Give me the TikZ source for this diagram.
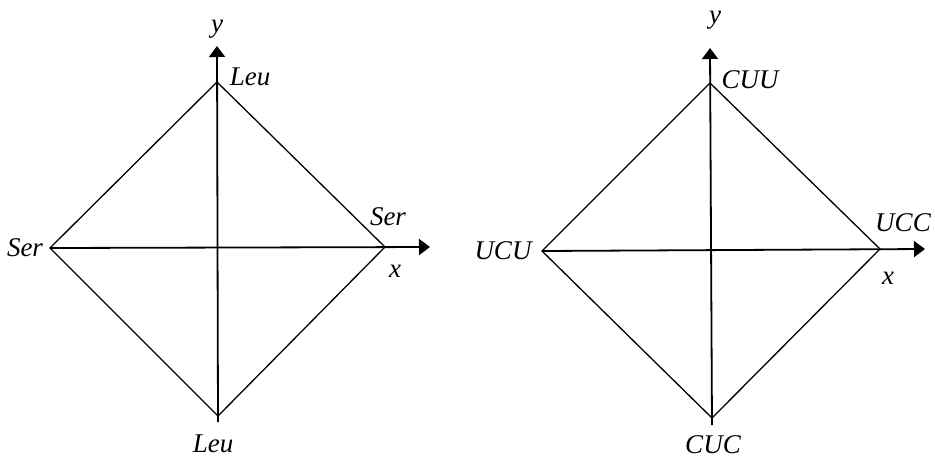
\documentclass[tikz,border=0pt]{standalone}
\usepackage{fontspec}
\setmainfont{Liberation Serif}
\usetikzlibrary{arrows.meta}
\tikzset{
  edge/.style={line width=1.3pt, black},
  axis/.style={line width=1.8pt, black, -{Triangle[length=11pt,width=16pt]}},
  lbl/.style={font=\itshape\fontsize{27}{27}\selectfont, inner sep=0pt}
}
\begin{document}
\begin{tikzpicture}[x=1pt,y=-1pt]
\useasboundingbox (0,0) rectangle (935,459);
% left diagram
\coordinate (LT) at (217,82);
\coordinate (LB) at (218,416);
\coordinate (LL) at (50,248);
\coordinate (LR) at (385,247);
\coordinate (LYb) at (218,422);
\coordinate (LYt) at (217,46);
\coordinate (LXt) at (430,247);
\draw[edge] (LT) -- (LR) -- (LB) -- (LL) -- cycle;
\draw[axis] (LYb) -- (LYt);
\draw[axis] (LL) -- (LXt);
\node[lbl] (ly) at (217,29) {y};
\node[lbl] (lleut) at (250,77) {Leu};
\node[lbl] (lserr) at (388,217) {Ser};
\node[lbl] (lserl) at (25,248) {Ser};
\node[lbl] (lx) at (395,271) {x};
\node[lbl] (lleub) at (213,444) {Leu};
% right diagram
\coordinate (RT) at (710,83);
\coordinate (RB) at (712,418);
\coordinate (RL) at (542,251);
\coordinate (RR) at (880,249);
\coordinate (RYb) at (712,425);
\coordinate (RYt) at (710,48);
\coordinate (RXt) at (925,249);
\draw[edge] (RT) -- (RR) -- (RB) -- (RL) -- cycle;
\draw[axis] (RYb) -- (RYt);
\draw[axis] (RL) -- (RXt);
\node[lbl] (ry) at (715,20) {y};
\node[lbl] (rcuu) at (750,80) {CUU};
\node[lbl] (rucc) at (903,223) {UCC};
\node[lbl] (rucu) at (503,251) {UCU};
\node[lbl] (rx) at (888,278) {x};
\node[lbl] (rcuc) at (713,445) {CUC};
\end{tikzpicture}
\end{document}
